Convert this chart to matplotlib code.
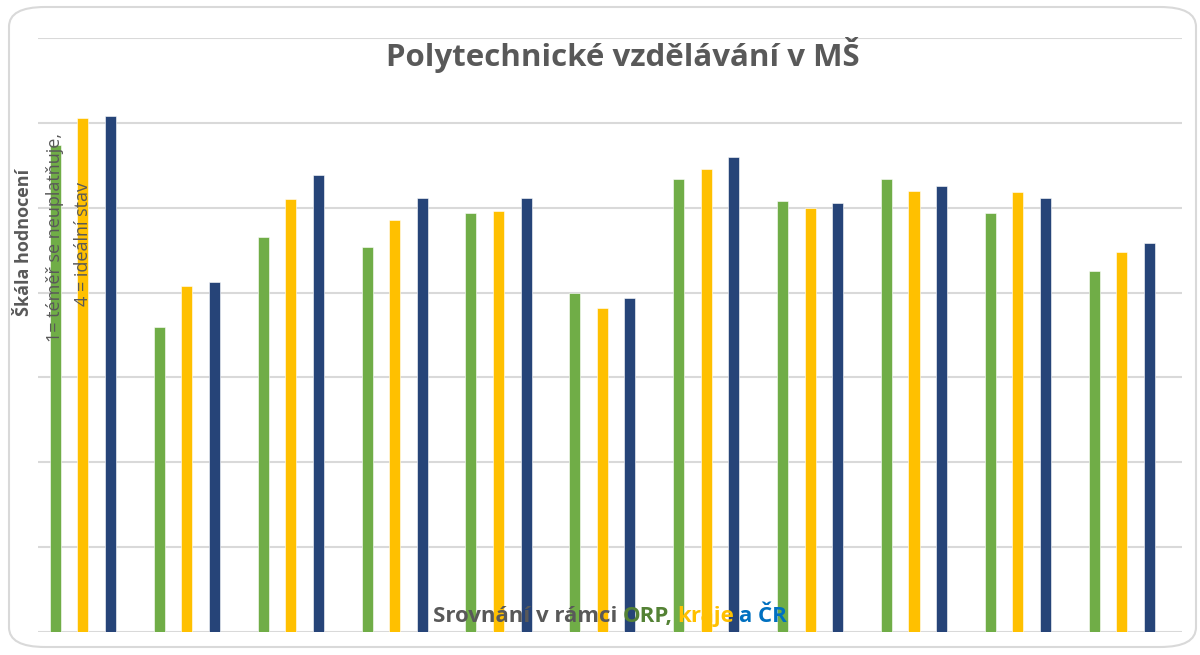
import numpy as np
import matplotlib.pyplot as plt
from matplotlib.patches import FancyBboxPatch

# data (scale 1-4)
groups = np.arange(11)
orp = [2.87, 1.80, 2.33, 2.27, 2.47, 2.00, 2.67, 2.54, 2.67, 2.47, 2.13]
kraj = [3.03, 2.04, 2.55, 2.43, 2.48, 1.91, 2.73, 2.50, 2.60, 2.59, 2.24]
cr = [3.04, 2.06, 2.69, 2.56, 2.56, 1.97, 2.80, 2.53, 2.63, 2.56, 2.29]

series = [orp, kraj, cr]
colors = ['#70AD47', '#FFC000', '#264478']

title = "Polytechnické vzdělávání v MŠ"
ylabel_main = "Škála hodnocení"
ylabel_l1 = "1= téměř se neuplatňuje,"
ylabel_l2 = "4 = ideální stav"
xlabel_parts = [("Srovnání v rámci", '#595959'), ("ORP,", '#548235'),
                ("kraje", '#FFC000'), ("a ČR", '#0070C0')]

plt.rcParams['font.family'] = ['Open Sans', 'DejaVu Sans']

fig = plt.figure(figsize=(12, 6.55), dpi=100)
W, H = 1200, 655

# rounded chart border
border = FancyBboxPatch((9 / W, 8 / H), 1187 / W, 640 / H,
                        boxstyle="round,pad=0,rounding_size=0.03",
                        transform=fig.transFigure, fill=False,
                        edgecolor='#D9D9D9', lw=1.5)
fig.patches.append(border)

ax = fig.add_axes([38 / W, 1 - 632 / H, 1144 / W, 594 / H])
width = 0.106
offset = 0.265
for k, (vals, col) in enumerate(zip(series, colors)):
    ax.bar(groups + (k - 1) * offset, vals, width=width, color=col,
           edgecolor='white', linewidth=0.4, zorder=3)

ax.set_xlim(-0.433, 10.58)
ax.set_ylim(0, 3.5)
ax.set_yticks(np.arange(0, 3.51, 0.5))
ax.yaxis.grid(True, color='#D9D9D9', lw=1.5, zorder=0)
ax.set_xticks([])
ax.tick_params(left=False, labelleft=False)
for s in ax.spines.values():
    s.set_visible(False)

fig.text(623 / W, 1 - 55 / H, title, ha='center', va='center',
         fontsize=22.5, fontweight='bold', color='#595959')

fig.text(24 / W, 1 - 242 / H, ylabel_main, rotation=90, ha='center',
         va='center', fontsize=13, fontweight='bold', color='#595959')
fig.text(55 / W, 1 - 237 / H, ylabel_l1, rotation=90, ha='center',
         va='center', fontsize=13, color='#595959')
fig.text(83 / W, 1 - 244 / H, ylabel_l2, rotation=90, ha='center',
         va='center', fontsize=13, color='#595959')

# multi-coloured axis title, words laid out on one baseline with a fixed gap
fig.canvas.draw()
renderer = fig.canvas.get_renderer()
gap = 5
pieces = []
total = 0
for txt, col in xlabel_parts:
    t = fig.text(0, 1 - 622 / H, txt, ha='left', va='baseline', fontsize=16,
                 fontweight='bold', color=col)
    w = t.get_window_extent(renderer).width
    pieces.append((t, w))
    total += w
total += gap * (len(pieces) - 1)
x0 = 610 - total / 2
for t, w in pieces:
    t.set_x(x0 / W)
    x0 += w + gap

fig.savefig('out.png', dpi=100)
